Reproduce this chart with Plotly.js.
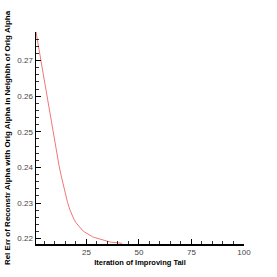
<!DOCTYPE html>
<html><head><meta charset="utf-8">
<script src="https://cdn.plot.ly/plotly-3.0.1.min.js"></script>
<style>html,body{margin:0;padding:0;background:#fff}#c{width:277px;height:277px}</style>
</head><body><div id="c"></div>
<script>
const iterations = [1,2,3,4,5,6,7,8,9,10,11,12,13,14,15,16,17,18,19,20,21,22,23,24,25,26,27,28,29,30,31,32,33,34,35,36,37,38,39,40,41,42];
const relErr = [0.2780,0.2745,0.2710,0.2676,0.2642,0.2605,0.2574,0.2535,0.2500,0.2466,0.2433,0.2404,0.2376,0.2350,0.2325,0.2302,0.2283,0.2268,0.2255,0.2245,0.2237,0.2230,0.2224,0.2219,0.2215,0.2211,0.2208,0.2205,0.2203,0.2201,0.2199,0.2197,0.2195,0.2194,0.2192,0.2191,0.2190,0.2189,0.2188,0.2188,0.2187,0.2187];
const xTitle = "Iteration of Improving Tail";
const yTitle = "Rel Err of Reconstr Alpha with Orig Alpha in Neighbh of Orig Alpha";

const fnt = "Liberation Sans, Arial, sans-serif";
Plotly.newPlot('c', [{
  x: iterations, y: relErr, type: 'scatter', mode: 'lines',
  line: {color: 'rgb(240,120,120)', width: 1}, hoverinfo: 'none'
}], {
  width: 277, height: 277,
  margin: {l: 36, r: 33, t: 32, b: 33, pad: 0},
  paper_bgcolor: '#fff', plot_bgcolor: '#fff',
  showlegend: false,
  xaxis: {
    range: [1, 100], tick0: 0, dtick: 25, showgrid: false, zeroline: false,
    showline: true, linecolor: '#000', linewidth: 1.5,
    ticks: 'inside', ticklen: 5, tickwidth: 1, tickcolor: '#000',
    minor: {dtick: 5, ticks: 'inside', ticklen: 3, tickwidth: 0.8, tickcolor: '#000', showgrid: false},
    tickfont: {family: fnt, size: 8, color: '#444'},
    title: {text: xTitle, font: {family: fnt, size: 7.5, color: '#000', weight: 'bold'}, standoff: 3}
  },
  yaxis: {
    range: [0.2185, 0.278], tick0: 0, dtick: 0.01, tickformat: '.2f', showgrid: false, zeroline: false,
    showline: true, linecolor: '#000', linewidth: 1.5,
    ticks: 'inside', ticklen: 5, tickwidth: 1, tickcolor: '#000',
    minor: {dtick: 0.002, ticks: 'inside', ticklen: 3, tickwidth: 0.8, tickcolor: '#000', showgrid: false},
    tickfont: {family: fnt, size: 8, color: '#444'},
    title: {text: yTitle, font: {family: fnt, size: 8, color: '#000', weight: 'bold'}, standoff: 5}
  }
}, {staticPlot: true, displayModeBar: false});
</script></body></html>
